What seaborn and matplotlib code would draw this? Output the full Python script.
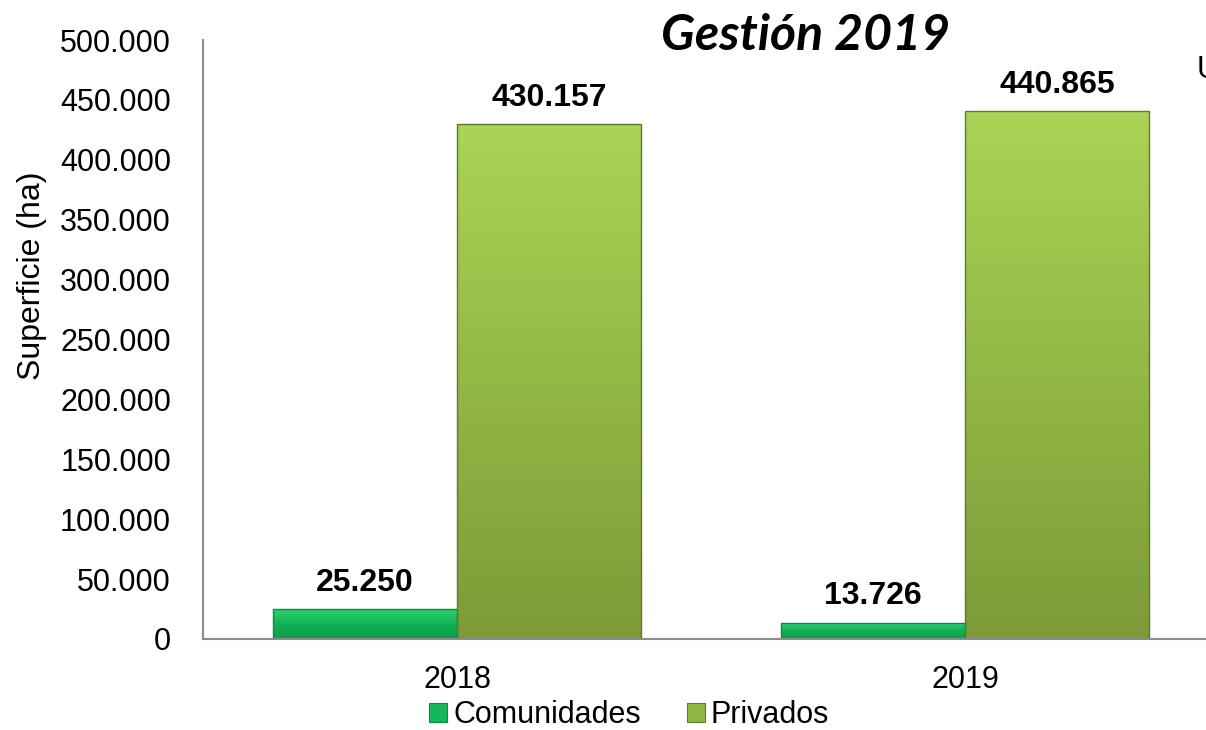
import numpy as np
import pandas as pd
import matplotlib
matplotlib.use("Agg")
import matplotlib.pyplot as plt
from matplotlib.patches import Patch
from matplotlib.colors import LinearSegmentedColormap
import seaborn as sns

years = ["2018", "2019"]
series_names = ["Comunidades", "Privados"]
comunidades = [25250, 13726]
privados = [430157, 440865]
yticks = [0, 50000, 100000, 150000, 200000, 250000, 300000, 350000, 400000, 450000, 500000]

sns.set_style("white")
plt.rcParams["font.family"] = ["Liberation Sans", "DejaVu Sans"]
plt.rcParams["text.color"] = "black"
plt.rcParams["xtick.color"] = "black"
plt.rcParams["ytick.color"] = "black"
plt.rcParams["axes.labelcolor"] = "black"

df = pd.DataFrame({
    "Año": years * 2,
    "Serie": [series_names[0]] * len(years) + [series_names[1]] * len(years),
    "Valor": comunidades + privados,
})

palette = {"Comunidades": "#14B85A", "Privados": "#8DB843"}
grads = {
    "Comunidades": ["#2ED673", "#12B255", "#0C9E4A"],
    "Privados": ["#AAD455", "#92B845", "#7C9C38"],
}
edges = {"Comunidades": "#0B8A40", "Privados": "#5F7A2A"}

fig = plt.figure(figsize=(12.06, 7.30), dpi=100)
ax = fig.add_axes([203 / 1206, 91 / 730, 1016 / 1206, 599 / 730])

sns.barplot(data=df, x="Año", y="Valor", hue="Serie", palette=palette,
            width=0.725, ax=ax, legend=False, saturation=1, edgecolor="none")

ax.set_xlim(-0.5, 1.5)
ax.set_ylim(0, 500000)

# gradients on bars (light at top, darker at bottom)
for cont, name in zip(ax.containers, series_names):
    cmap = LinearSegmentedColormap.from_list(name, grads[name])
    for bar in cont:
        x, w, h = bar.get_x(), bar.get_width(), bar.get_height()
        grad = np.linspace(0, 1, 64).reshape(-1, 1)
        im = ax.imshow(grad, cmap=cmap, extent=[x, x + w, 0, h], aspect="auto",
                       zorder=bar.get_zorder() + 0.1, interpolation="bilinear")
        im.set_clip_path(bar)
        bar.set_edgecolor(edges[name])
        bar.set_linewidth(1.0)
        bar.set_zorder(bar.get_zorder() + 0.2)
        bar.set_facecolor("none")
        ax.annotate(f"{int(h):,}".replace(",", "."), (x + w / 2, h),
                    xytext=(0, 8), textcoords="offset points",
                    ha="center", va="bottom", fontsize=23, fontweight="bold",
                    color="#000000", zorder=5)

ax.set_xlim(-0.5, 1.5)
ax.set_ylim(0, 500000)
ax.set_yticks(yticks)
ax.set_yticklabels([f"{v:,}".replace(",", ".") if v else "0" for v in yticks])
ax.tick_params(axis="y", length=0, pad=23, labelsize=22)
ax.tick_params(axis="x", length=0, pad=19, labelsize=22)
ax.set_xlabel("")
ax.set_ylabel("Superficie (ha)", fontsize=23)
ax.yaxis.set_label_coords(-0.154, 0.606)

for s in ["top", "right"]:
    ax.spines[s].set_visible(False)
for s in ["left", "bottom"]:
    ax.spines[s].set_color("#8C8C8C")
    ax.spines[s].set_linewidth(1.5)

fig.text(806 / 1206, 1 - 35 / 730, "Gestión 2019", ha="center", va="center",
         fontsize=36, fontweight="bold", fontstyle="italic", family=["Lato", "DejaVu Sans"])
fig.text(1197 / 1206, 1 - 70 / 730, "U", ha="left", va="center", fontsize=22)

handles = [Patch(facecolor=palette[n], edgecolor=edges[n], linewidth=0.8) for n in series_names]
fig.legend(handles, series_names, loc="center", bbox_to_anchor=(629 / 1206, 1 - 715 / 730),
           ncol=2, frameon=False, fontsize=22, handlelength=0.6, handleheight=0.6,
           handletextpad=0.2, columnspacing=1.5, borderpad=0)

fig.savefig("out.png", dpi=100)
